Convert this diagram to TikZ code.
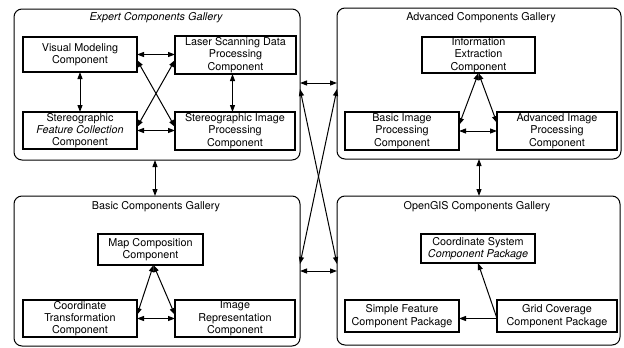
\documentclass[tikz,border=0pt]{standalone}
\usepackage{fontspec}
\setmainfont{TeX Gyre Heros}
\usetikzlibrary{arrows.meta}
\tikzset{
  gal/.style={draw, line width=1pt, rounded corners=8pt, inner sep=0pt, outer sep=0pt},
  comp/.style={draw, line width=1.1pt, align=center, inner sep=0pt, outer sep=0pt,
    font=\fontsize{10.8}{12.3}\selectfont},
  gtitle/.style={font=\fontsize{10.8}{12.3}\selectfont, inner sep=0pt},
  conn/.style={line width=1pt, {Triangle[length=7pt,width=5pt]}-{Triangle[length=7pt,width=5pt]}},
  oneway/.style={line width=1pt, -{Triangle[length=7pt,width=5pt]}}
}
\begin{document}
\begin{tikzpicture}[x=1pt,y=-1pt]
\useasboundingbox (0,0) rectangle (624,348);
% galleries
\node[gal, minimum width=286pt, minimum height=151pt] (exp) at (157,84.5) {};
\node[gal, minimum width=284pt, minimum height=151pt] (adv) at (479,83.5) {};
\node[gal, minimum width=286pt, minimum height=150pt] (bas) at (157,271) {};
\node[gal, minimum width=283pt, minimum height=149pt] (ogis) at (478.5,270.5) {};
% titles
\node[gtitle] (texp) at (156,18) {\itshape Expert Components Gallery};
\node[gtitle] (tadv) at (481,18) {Advanced Components Gallery};
\node[gtitle] (tbas) at (156,207) {Basic Components Gallery};
\node[gtitle] (togis) at (477,207) {OpenGIS Components Gallery};
% expert
\node[comp, minimum width=114pt, minimum height=35pt] (vm) at (80,54.5) {Visual Modeling\\Component};
\node[comp, minimum width=121pt, minimum height=38pt] (ls) at (235.5,55) {Laser Scanning Data\\Processing\\Component};
\node[comp, minimum width=114pt, minimum height=37pt] (sf) at (80,130.5) {Stereographic\\\textit{Feature Collection}\\Component};
\node[comp, minimum width=120pt, minimum height=38pt] (si) at (235,131) {Stereographic Image\\Processing\\Component};
% advanced
\node[comp, minimum width=113pt, minimum height=36pt] (ie) at (478.5,55) {Information\\Extraction\\Component};
\node[comp, minimum width=114pt, minimum height=38pt] (bi) at (402,131) {Basic Image\\Processing\\Component};
\node[comp, minimum width=120pt, minimum height=38pt] (ai) at (557,131) {Advanced Image\\Processing\\Component};
% basic
\node[comp, minimum width=105pt, minimum height=31pt] (mc) at (150.5,249.5) {Map Composition\\Component};
\node[comp, minimum width=114pt, minimum height=37pt] (ct) at (80,318.5) {Coordinate\\Transformation\\Component};
\node[comp, minimum width=120pt, minimum height=37pt] (ir) at (235,318.5) {Image\\Representation\\Component};
% opengis
\node[comp, minimum width=114pt, minimum height=29pt] (cs) at (478,248.5) {Coordinate System\\\textit{Component Package}};
\node[comp, minimum width=114pt, minimum height=32pt] (sfp) at (402,316) {Simple Feature\\Component Package};
\node[comp, minimum width=120pt, minimum height=32pt] (gc) at (557,316) {Grid Coverage\\Component Package};
% expert connectors
\draw[conn] (vm.east) -- (vm.east -| ls.west);
\draw[conn] (sf.east) -- (sf.east -| si.west);
\draw[conn] (vm.south) -- (vm.south |- sf.north);
\draw[conn] ([xshift=-3pt]ls.south) -- ([xshift=-3pt]ls.south |- si.north);
\draw[conn] ([yshift=-5.5pt]vm.east) -- ([yshift=4pt]si.west);
\draw[conn] ([yshift=3.5pt]sf.east) -- ([yshift=-5pt]ls.west);
% advanced connectors
\draw[conn] (ie.south) -- ([yshift=6pt]bi.east);
\draw[conn] (ie.south) -- ([yshift=8pt]ai.west);
\draw[conn] (bi.east) -- (ai.west);
% basic connectors
\draw[conn] ([xshift=3pt]mc.south) -- ([yshift=3.5pt]ct.east);
\draw[conn] ([xshift=3pt]mc.south) -- ([yshift=3.5pt]ir.west);
\draw[conn] (ct.east) -- (ir.west);
% opengis connectors
\draw[oneway] ([yshift=-2.5pt]gc.west) -- (cs.south);
\draw[oneway] ([yshift=-2.5pt]gc.west) -- ([yshift=-2.5pt]gc.west -| sfp.east);
% gallery connectors
\draw[conn] ([xshift=-2pt]exp.south) -- ([xshift=-2pt]exp.south |- bas.north);
\draw[conn] (adv.south) -- (adv.south |- ogis.north);
\draw[conn] ([yshift=1.5pt]exp.east) -- ([yshift=1.5pt]exp.east -| adv.west);
\draw[conn] (bas.east) -- (bas.east -| ogis.west);
\draw[conn] ([yshift=-4.5pt]exp.east) -- ([yshift=6.5pt]ogis.west);
\draw[conn] ([yshift=-5.5pt]adv.west) -- ([yshift=7pt]bas.east);
\end{tikzpicture}
\end{document}
